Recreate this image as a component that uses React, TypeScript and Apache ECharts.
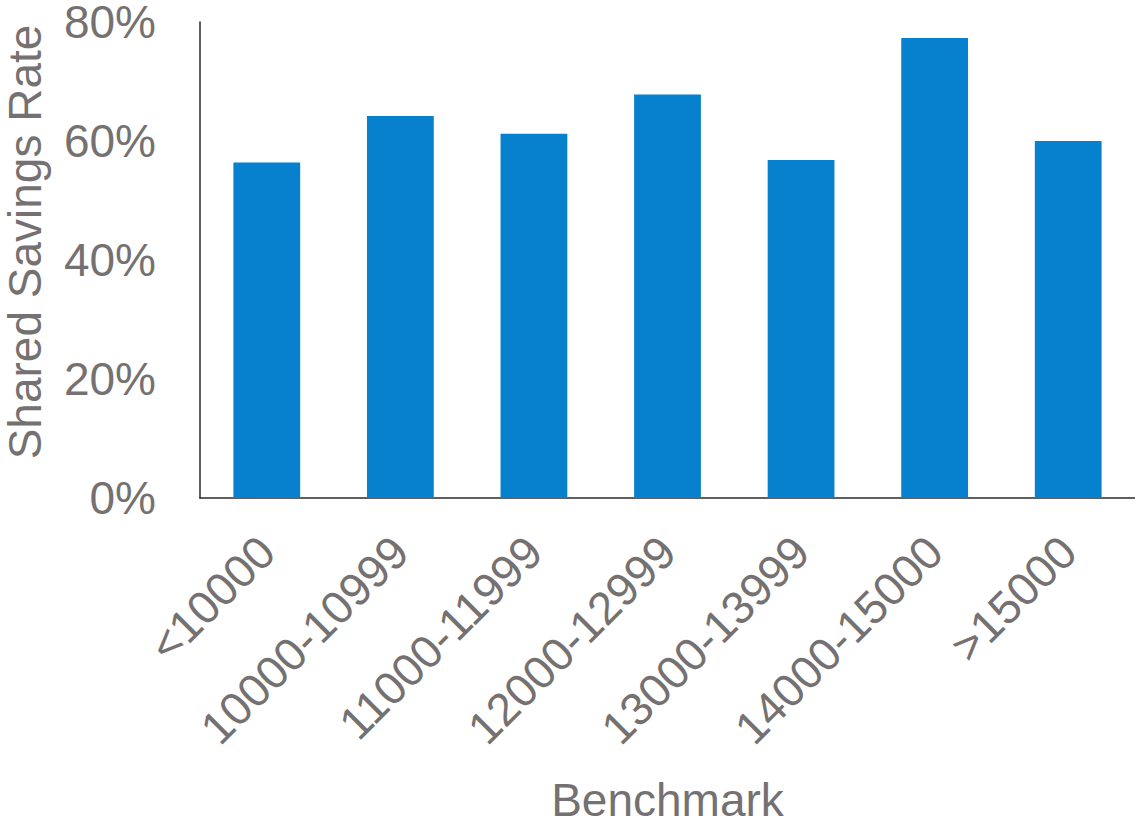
import React, { useEffect, useRef } from "react";
import * as echarts from "echarts";

// Benchmark bands and the shared savings rate (%) for each band
const categories = [
  "<10000",
  "10000-10999",
  "11000-11999",
  "12000-12999",
  "13000-13999",
  "14000-15000",
  ">15000",
];
const savingsRate = [56.4, 64.2, 61.2, 67.8, 56.8, 77.3, 60.0];

const yMin = 0;
const yMax = 80;
const yStep = 20;

const FONT = "'Liberation Sans', Arial, sans-serif";
const TEXT_GRAY = "#767171";
const AXIS_COLOR = "#2b2b2b";
const BAR_BLUE = "#0780CE";

export default function App() {
  const ref = useRef<HTMLDivElement>(null);

  useEffect(() => {
    if (!ref.current) return;
    const chart = echarts.init(ref.current, undefined, { renderer: "svg" });
    chart.setOption({
      animation: false,
      backgroundColor: "#ffffff",
      textStyle: { fontFamily: FONT },
      grid: {
        left: 200,
        right: 0,
        top: 22,
        bottom: 324,
        containLabel: false,
        outerBoundsMode: "none",
      },
      xAxis: {
        type: "category",
        data: categories,
        name: "Benchmark",
        nameLocation: "middle",
        nameGap: 279,
        nameTextStyle: { color: TEXT_GRAY, fontSize: 46, fontFamily: FONT },
        axisLine: { show: true, lineStyle: { color: AXIS_COLOR, width: 1.5 } },
        axisTick: { show: false },
        axisLabel: {
          rotate: 45,
          interval: 0,
          margin: 46,
          color: TEXT_GRAY,
          fontSize: 46,
          fontFamily: FONT,
        },
      },
      yAxis: {
        type: "value",
        min: yMin,
        max: yMax,
        interval: yStep,
        name: "Shared Savings Rate",
        nameLocation: "middle",
        nameRotate: 90,
        nameGap: 152,
        nameTextStyle: {
          color: TEXT_GRAY,
          fontSize: 46,
          fontFamily: FONT,
          padding: [0, 0, 0, 36],
        },
        axisLine: { show: true, lineStyle: { color: AXIS_COLOR, width: 1.5 } },
        axisTick: { show: false },
        splitLine: { show: false },
        axisLabel: {
          margin: 44,
          color: TEXT_GRAY,
          fontSize: 46,
          fontFamily: FONT,
          formatter: "{value}%",
        },
      },
      series: [
        {
          type: "bar",
          data: savingsRate,
          barWidth: "50%",
          itemStyle: { color: BAR_BLUE },
        },
      ],
    });
    return () => chart.dispose();
  }, []);

  return (
    <div
      ref={ref}
      style={{ position: "absolute", left: 0, top: 0, width: 1135, height: 822 }}
    />
  );
}
